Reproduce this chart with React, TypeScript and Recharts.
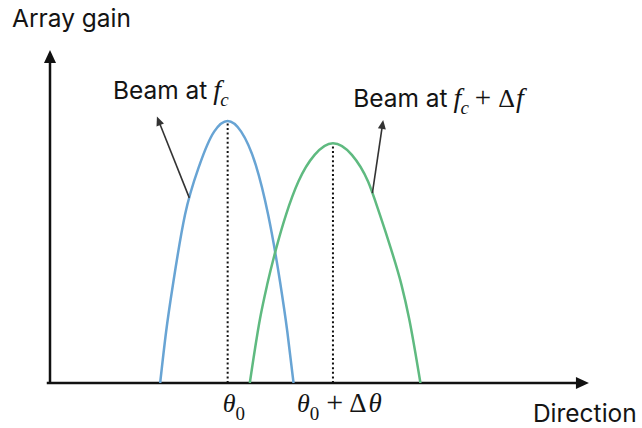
import { ComposedChart, Line, XAxis, YAxis, ReferenceLine } from "recharts"

// ─── Data: array gain (0–100) vs direction (0–100, arbitrary units) ──────────

const beamFc = [
  { x: 20.4, y: 0 },
  { x: 21.5, y: 15.4 },
  { x: 22.85, y: 30.4 },
  { x: 25.0, y: 50.5 },
  { x: 27.7, y: 65.5 },
  { x: 30.4, y: 75.5 },
  { x: 32.9, y: 78.7 },
  { x: 35.4, y: 75.5 },
  { x: 38.1, y: 65.5 },
  { x: 40.4, y: 50.5 },
  { x: 42.6, y: 30.4 },
  { x: 43.95, y: 15.4 },
  { x: 45.1, y: 0 },
]

const beamFcDf = [
  { x: 37.0, y: 0 },
  { x: 38.9, y: 19.4 },
  { x: 40.2, y: 29.4 },
  { x: 41.9, y: 40.5 },
  { x: 43.7, y: 50.5 },
  { x: 46.0, y: 60.5 },
  { x: 49.0, y: 68.5 },
  { x: 52.4, y: 72.0 },
  { x: 55.9, y: 68.5 },
  { x: 58.9, y: 60.5 },
  { x: 61.1, y: 50.5 },
  { x: 63.1, y: 40.5 },
  { x: 65.1, y: 29.4 },
  { x: 66.5, y: 19.4 },
  { x: 68.6, y: 0 },
]

// beam peaks (direction, gain)
const peaks = [
  { x: 32.9, y: 78.7 },
  { x: 52.4, y: 72.0 },
]

// callout arrows: point on the beam → arrow tip
const calloutFc = [{ x: 25.8, y: 55.6 }, { x: 19.8, y: 80.0 }]
const calloutFcDf = [{ x: 59.7, y: 57.0 }, { x: 61.7, y: 79.0 }]

const axisXStart = -0.6
const axisXEnd = 99.8
const axisYEnd = 100

const yAxisTitle = "Array gain"
const xAxisTitle = "Direction"

// ─── Styles ──────────────────────────────────────────────────────────────────

const COLOR_BLUE = "#68a4d4"
const COLOR_GREEN = "#5fba80"
const SANS = "Inter, 'Liberation Sans', Arial, sans-serif"
const SERIF = "'Liberation Serif', 'DejaVu Serif', serif"
const TEXT = "#141414"
const SANS_SIZE = 24.5

// line with a filled head at (x2, y2); an optional label is placed relative to the tip
function arrowShape(
  color: string,
  width: number,
  head: number,
  halfW: number,
  label?: (x: number, y: number) => any,
) {
  return (p: any) => {
    const { x1, y1, x2, y2 } = p
    const dx = x2 - x1
    const dy = y2 - y1
    const len = Math.hypot(dx, dy) || 1
    const ux = dx / len
    const uy = dy / len
    const bx = x2 - ux * head
    const by = y2 - uy * head
    const px = -uy * halfW
    const py = ux * halfW
    return (
      <g>
        <line x1={x1} y1={y1} x2={bx + ux} y2={by + uy} stroke={color} strokeWidth={width} />
        <polygon points={`${x2},${y2} ${bx + px},${by + py} ${bx - px},${by - py}`} fill={color} />
        {label && label(x2, y2)}
      </g>
    )
  }
}

// dotted drop line from a peak, with its direction label under the axis
function dropShape(label: (x: number, y: number) => any) {
  return (p: any) => {
    const { x1, y1, x2, y2 } = p
    return (
      <g>
        <line x1={x1} y1={y1} x2={x2} y2={y2} stroke="#111" strokeWidth={2} strokeDasharray="2 2.6" />
        {label(x1, Math.max(y1, y2))}
      </g>
    )
  }
}

// ─── Labels ──────────────────────────────────────────────────────────────────

const labelFc = (x: number, y: number) => (
  <text x={x - 44} y={y - 18} fontFamily={SANS} fontSize={SANS_SIZE} fill={TEXT}>
    <tspan>Beam at</tspan>
    <tspan dx={6} fontFamily={SERIF} fontStyle="italic" fontSize={28}>f</tspan>
    <tspan dx={-1} dy={7} fontFamily={SERIF} fontStyle="italic" fontSize={19}>c</tspan>
  </text>
)

const labelFcDf = (x: number, y: number) => (
  <text x={x - 30} y={y - 13} fontFamily={SANS} fontSize={SANS_SIZE} fill={TEXT}>
    <tspan>Beam at</tspan>
    <tspan dx={6} fontFamily={SERIF} fontStyle="italic" fontSize={28}>f</tspan>
    <tspan dx={-1} dy={7} fontFamily={SERIF} fontStyle="italic" fontSize={19}>c</tspan>
    <tspan dx={6} dy={-7} fontFamily={SERIF} fontSize={29}>+</tspan>
    <tspan dx={7} fontFamily={SERIF} fontSize={26}>Δ</tspan>
    <tspan dx={1} fontFamily={SERIF} fontStyle="italic" fontSize={28}>f</tspan>
  </text>
)

const labelTheta0 = (x: number, y: number) => (
  <text x={x - 5} y={y + 29} fontFamily={SERIF} fill={TEXT}>
    <tspan fontStyle="italic" fontSize={26}>θ</tspan>
    <tspan dy={8} fontSize={19}>0</tspan>
  </text>
)

const labelTheta0Dt = (x: number, y: number) => (
  <text x={x - 36} y={y + 29} fontFamily={SERIF} fill={TEXT}>
    <tspan fontStyle="italic" fontSize={26}>θ</tspan>
    <tspan dy={8} fontSize={19}>0</tspan>
    <tspan dx={7} dy={-8} fontSize={30}>+</tspan>
    <tspan dx={6} fontSize={27}>Δ</tspan>
    <tspan dx={2} fontStyle="italic" fontSize={27}>θ</tspan>
  </text>
)

const labelYAxis = (x: number, y: number) => (
  <text x={x - 38} y={y - 23} fontFamily={SANS} fontSize={SANS_SIZE} fill={TEXT}>
    {yAxisTitle}
  </text>
)

const labelXAxis = (x: number, y: number) => (
  <text x={x - 56} y={y + 39} fontFamily={SANS} fontSize={SANS_SIZE} fill={TEXT}>
    {xAxisTitle}
  </text>
)

// ─── Chart ───────────────────────────────────────────────────────────────────

export default function App() {
  return (
    <div style={{ position: "absolute", left: 0, top: 0, width: 642, height: 428, background: "#fff" }}>
      <ComposedChart width={642} height={428} margin={{ top: 50, right: 52, bottom: 45, left: 50 }}>
        <XAxis dataKey="x" type="number" domain={[0, 100]} allowDataOverflow hide />
        <YAxis type="number" domain={[0, 100]} allowDataOverflow hide />

        {/* axes */}
        <ReferenceLine
          segment={[{ x: axisXStart, y: 0 }, { x: axisXEnd, y: 0 }]}
          ifOverflow="visible"
          shape={arrowShape("#111", 2.5, 13, 6, labelXAxis)}
        />
        <ReferenceLine
          segment={[{ x: 0, y: 0 }, { x: 0, y: axisYEnd }]}
          ifOverflow="visible"
          shape={arrowShape("#111", 2.5, 13, 6, labelYAxis)}
        />

        {/* peak drop lines */}
        <ReferenceLine
          segment={[{ x: peaks[0].x, y: 0 }, { x: peaks[0].x, y: peaks[0].y }]}
          ifOverflow="visible"
          shape={dropShape(labelTheta0)}
        />
        <ReferenceLine
          segment={[{ x: peaks[1].x, y: 0 }, { x: peaks[1].x, y: peaks[1].y }]}
          ifOverflow="visible"
          shape={dropShape(labelTheta0Dt)}
        />

        <Line
          data={beamFc}
          dataKey="y"
          type="monotone"
          stroke={COLOR_BLUE}
          strokeWidth={2.5}
          dot={false}
          activeDot={false}
          isAnimationActive={false}
        />
        <Line
          data={beamFcDf}
          dataKey="y"
          type="monotone"
          stroke={COLOR_GREEN}
          strokeWidth={2.5}
          dot={false}
          activeDot={false}
          isAnimationActive={false}
        />

        {/* callouts */}
        <ReferenceLine
          segment={calloutFc}
          ifOverflow="visible"
          shape={arrowShape("#333", 1.6, 9, 4, labelFc)}
        />
        <ReferenceLine
          segment={calloutFcDf}
          ifOverflow="visible"
          shape={arrowShape("#333", 1.6, 9, 4, labelFcDf)}
        />
      </ComposedChart>
    </div>
  )
}
